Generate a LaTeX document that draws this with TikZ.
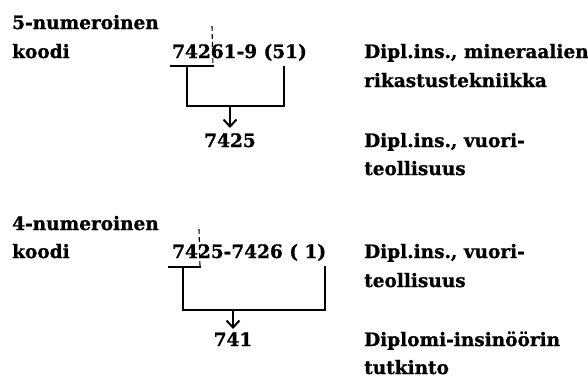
\documentclass[tikz,border=0pt]{standalone}
\usepackage{fontspec}
\setmainfont{DejaVu Serif}[BoldFeatures={FakeBold=1}]
\usetikzlibrary{arrows.meta}
\tikzset{
  lbl/.style={anchor=base west, inner sep=0pt, font=\bfseries\fontsize{18.5}{28}\selectfont},
  ctr/.style={lbl, anchor=base},
  brk/.style={line width=2pt, line cap=rect, line join=miter},
  cut/.style={line width=1.1pt, dash pattern=on 5pt off 3pt},
  arr/.style={line width=2pt, -{Straight Barb[length=7pt,width=13pt]}}
}
\begin{document}
\begin{tikzpicture}[x=1pt,y=-1pt]
\useasboundingbox (0,0) rectangle (588,380);
% block 1
\node[lbl] (n5) at (12,29) {5-numeroinen};
\node[lbl] (k5) at (12,58) {koodi};
\node[lbl] (c5) at (172,58) {74261-9 (51)};
\node[lbl] (d5a) at (364,58) {Dipl.ins., mineraalien};
\node[lbl] (d5b) at (364,87) {rikastustekniikka};
\node[ctr] (r5) at (230,147) {7425};
\node[lbl] (d5c) at (364,147) {Dipl.ins., vuori-};
\node[lbl] (d5d) at (364,175) {teollisuus};
\coordinate (u1a) at (171,66);
\coordinate (u1b) at (213,66);
\coordinate (t1) at (212,26);
\coordinate (l1) at (187,66);
\coordinate (b1) at (284,106);
\coordinate (r1) at (284,67);
\coordinate (m1) at (230,106);
\coordinate (a1) at (230,128);
\draw[brk] (u1a) -- (u1b);
\draw[cut] (t1) -- (u1b);
\draw[brk] (l1) |- (b1) -- (r1);
\draw[arr] (m1) -- (a1);
% block 2
\node[lbl] (n4) at (12,230) {4-numeroinen};
\node[lbl] (k4) at (12,258) {koodi};
\node[lbl] (c4) at (172,258) {7425-7426 ( 1)};
\node[lbl] (d4a) at (364,258) {Dipl.ins., vuori-};
\node[lbl] (d4b) at (364,287) {teollisuus};
\node[ctr] (r4) at (233,346) {741};
\node[lbl] (d4c) at (364,346) {Diplomi-insinöörin};
\node[lbl] (d4d) at (364,374) {tutkinto};
\coordinate (u2a) at (169,267);
\coordinate (u2b) at (200,267);
\coordinate (t2) at (199,229);
\coordinate (l2) at (183,267);
\coordinate (b2) at (325,310);
\coordinate (r2) at (325,267);
\coordinate (m2) at (233,310);
\coordinate (a2) at (233,329);
\draw[brk] (u2a) -- (u2b);
\draw[cut] (t2) -- (u2b);
\draw[brk] (l2) |- (b2) -- (r2);
\draw[arr] (m2) -- (a2);
\end{tikzpicture}
\end{document}
